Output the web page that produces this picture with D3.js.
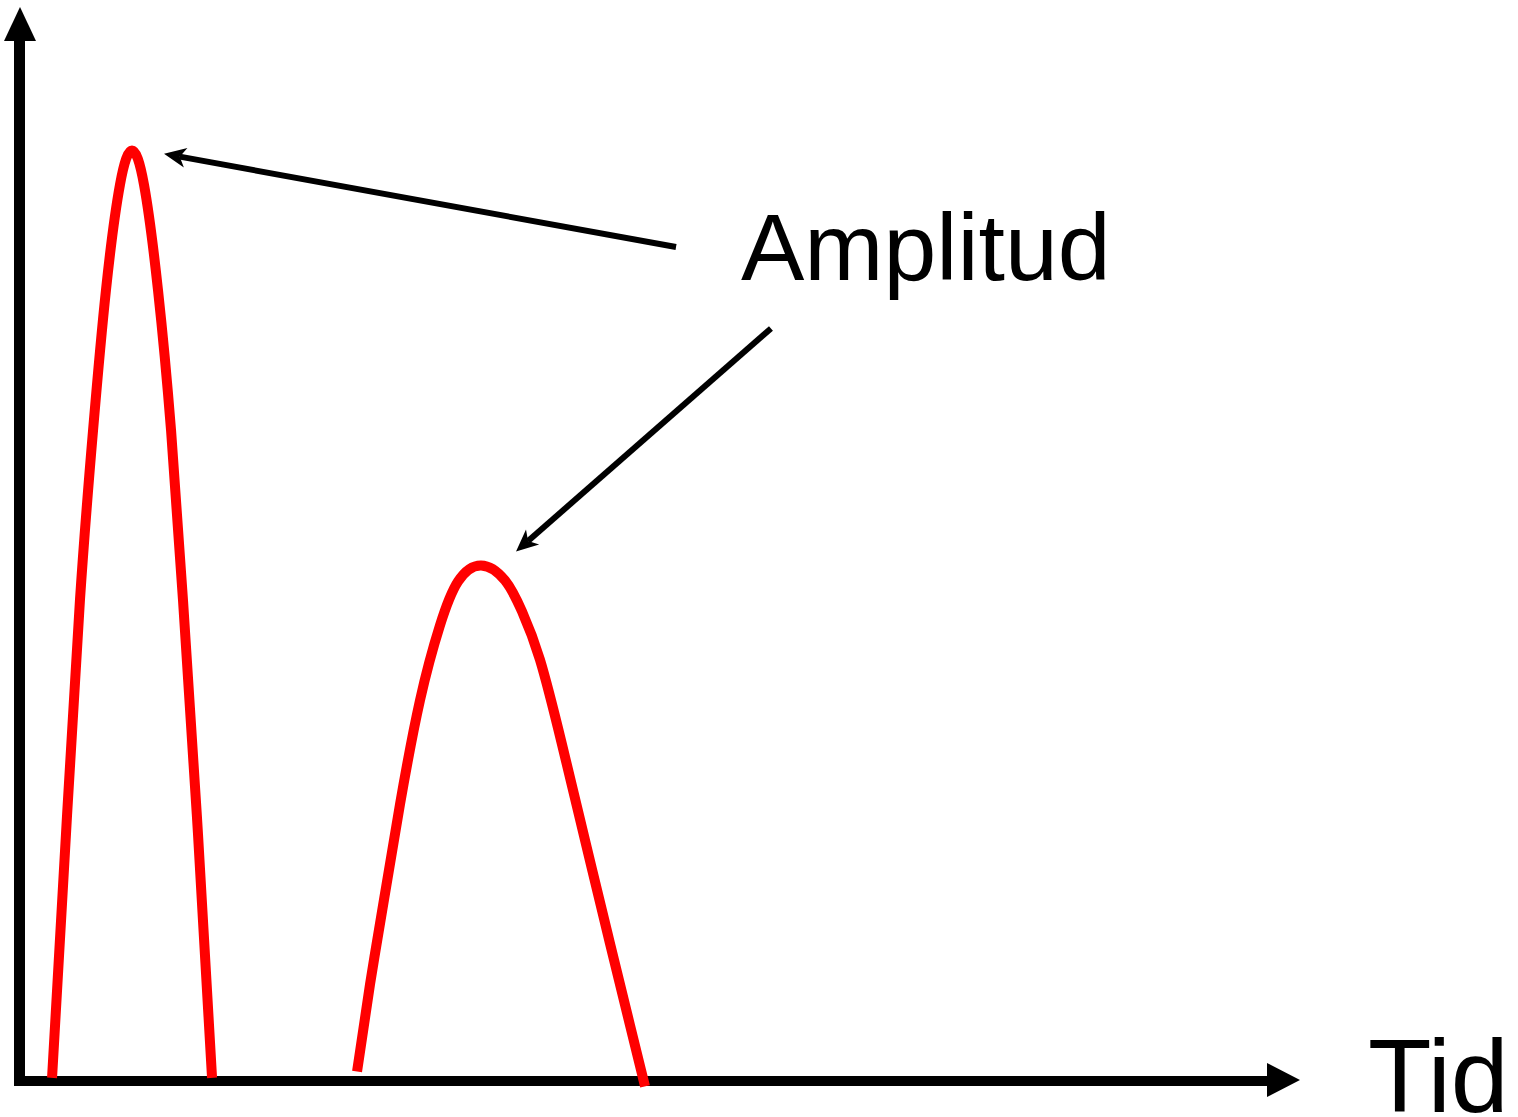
<!DOCTYPE html>
<html>
<head>
<meta charset="utf-8">
<script src="https://cdn.jsdelivr.net/npm/d3@7"></script>
<style>
  body { margin: 0; background: #fff; }
  svg { display: block; }
</style>
</head>
<body>
<div class="chart-container"></div>
<script>
// pulse data, in time / amplitude units
const pulse1 = [
  [0.258, 0.02], [0.367, 2.30], [0.476, 4.48], [0.578, 6.06], [0.679, 7.37],
  [0.788, 8.35], [0.882, 8.67], [0.976, 8.35], [1.085, 7.37], [1.187, 6.06],
  [1.280, 4.48], [1.397, 2.30], [1.507, 0.02]
]
const pulse2 = [
  [2.639, 0.08], [2.740, 0.89], [2.849, 1.68], [2.974, 2.57], [3.130, 3.54],
  [3.286, 4.24], [3.427, 4.65], [3.607, 4.80], [3.794, 4.66], [3.927, 4.37],
  [4.067, 3.92], [4.239, 3.13], [4.418, 2.24], [4.598, 1.35], [4.770, 0.51],
  [4.887, -0.06]
]
const pulses = [pulse1, pulse2]

// annotation: label and arrows (start -> tip)
const labelText = "Amplitud"
const labelPos = [5.636, 7.46]
const arrows = [
  {from: [5.129, 7.77], to: [1.132, 8.64]},
  {from: [5.870, 7.01], to: [3.880, 4.93]}
]
const xLabel = "Tid"

const width = 1518, height = 1117

svg = d3.select(".chart-container").append("svg").attr("width", width).attr("height", height)

// scales
x = d3.scaleLinear().domain([0, 10]).range([19, 1300])
y = d3.scaleLinear().domain([0, 10]).range([1080, 8])

// axes without ticks, only the domain line
xAxis = d3.axisBottom(x).tickValues([]).tickSizeOuter(0)
yAxis = d3.axisLeft(y).tickValues([]).tickSizeOuter(0)

gx = svg.append("g").attr("transform", "translate(0," + (y(0) + 1) + ")").call(xAxis)
gx.select(".domain").attr("d", "M" + (x(0) - 5) + ",0H" + (x(10) - 32))
gx.select(".domain").attr("stroke", "#000").attr("stroke-width", 10)

gy = svg.append("g").attr("transform", "translate(" + (x(0) + 0.5) + ",0)").call(yAxis)
gy.select(".domain").attr("d", "M0," + (y(0) + 5) + "V" + (y(10) + 32))
gy.select(".domain").attr("stroke", "#000").attr("stroke-width", 11)

// axis arrowheads
svg.append("polygon")
  .attr("points", [[x(10), y(0)], [x(10) - 33, y(0) - 17], [x(10) - 33, y(0) + 17]].join(" "))
  .attr("fill", "#000")
svg.append("polygon")
  .attr("points", [[x(0) + 1, y(10) - 1], [x(0) - 15, y(10) + 33], [x(0) + 17, y(10) + 33]].join(" "))
  .attr("fill", "#000")

// pulses, smooth natural spline through the read points
line = d3.line().x(d => x(d[0])).y(d => y(d[1])).curve(d3.curveNatural)

svg.selectAll(".pulse").data(pulses).enter()
  .append("path")
  .attr("class", "pulse")
  .attr("d", line)
  .attr("fill", "none")
  .attr("stroke", "#ff0000")
  .attr("stroke-width", 10)
  .attr("stroke-linejoin", "round")

// annotation arrows
arrows.forEach(a => {
  x1 = x(a.from[0]), y1 = y(a.from[1])
  x2 = x(a.to[0]), y2 = y(a.to[1])
  ang = Math.atan2(y2 - y1, x2 - x1)
  len = 22, hw = 10, notch = 6
  ux = Math.cos(ang), uy = Math.sin(ang)
  bx = x2 - ux * len, by = y2 - uy * len
  svg.append("line")
    .attr("x1", x1).attr("y1", y1)
    .attr("x2", x2 - ux * (len - notch)).attr("y2", y2 - uy * (len - notch))
    .attr("stroke", "#000").attr("stroke-width", 6)
  svg.append("polygon")
    .attr("points", [
      [x2, y2],
      [bx - uy * hw, by + ux * hw],
      [x2 - ux * (len - notch), y2 - uy * (len - notch)],
      [bx + uy * hw, by - ux * hw]
    ].join(" "))
    .attr("fill", "#000")
})

// texts
svg.append("text")
  .attr("x", x(labelPos[0])).attr("y", y(labelPos[1]))
  .attr("font-family", "Liberation Sans, Arial, sans-serif")
  .attr("font-size", 95)
  .attr("fill", "#000")
  .text(labelText)

svg.append("text")
  .attr("x", 1368).attr("y", 1112)
  .attr("font-family", "Liberation Sans, Arial, sans-serif")
  .attr("font-size", 104)
  .attr("fill", "#000")
  .text(xLabel)
</script>
</body>
</html>
